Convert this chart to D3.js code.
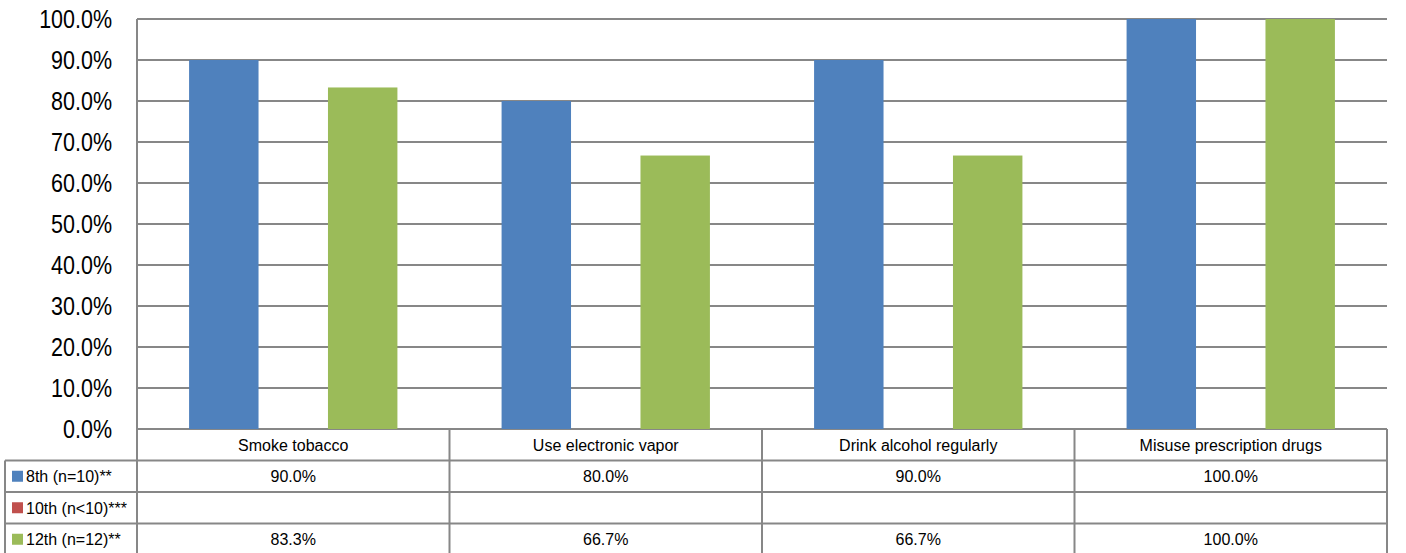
<!DOCTYPE html>
<html><head><meta charset="utf-8">
<script src="https://cdn.jsdelivr.net/npm/d3@7"></script>
<style>html,body{margin:0;padding:0;background:#fff}svg{display:block}text{font-family:"Liberation Sans",Arial,sans-serif;fill:#000}</style>
</head><body>
<script>
const categories = ["Smoke tobacco","Use electronic vapor","Drink alcohol regularly","Misuse prescription drugs"];
const seriesNames = ["8th (n=10)**","10th (n<10)***","12th (n=12)**"];
const values8th = [90.0, 80.0, 90.0, 100.0];
const values10th = [null, null, null, null];
const values12th = [83.3, 66.7, 66.7, 100.0];
const seriesColors = ["#4F81BD","#C0504D","#9BBB59"];
const yTicks = [0,10,20,30,40,50,60,70,80,90,100];

(function(){
const W = 1406, H = 553;
const pLeft = 137, pRight = 1387, pTop = 19, pBottom = 429;
const rowH = 31.5, legendLeft = 5;
const gridColor = "#878787";

const seriesValues = [values8th, values10th, values12th];
const svg = d3.select("body").append("svg").attr("width", W).attr("height", H);

const x = d3.scaleBand().domain(categories).range([pLeft, pRight]).padding(0);
const xs = d3.scaleBand().domain(seriesNames).range([0, x.bandwidth()]).paddingInner(0).paddingOuter(0.75);
const y = d3.scaleLinear().domain([0, 100]).range([pBottom, pTop]);

// gridlines
svg.append("g").selectAll("line").data(yTicks).join("line")
  .attr("x1", pLeft).attr("x2", pRight)
  .attr("y1", d => y(d)).attr("y2", d => y(d))
  .attr("stroke", gridColor).attr("stroke-width", 2);

// y labels
svg.append("g").selectAll("text").data(yTicks).join("text")
  .attr("transform", d => `translate(112,${y(d)}) scale(0.86,1)`)
  .attr("text-anchor", "end").attr("dy", "0.36em")
  .style("font-size", "25px")
  .text(d => d3.format(".1f")(d) + "%");

// bars
seriesNames.forEach((s, si) => {
  svg.append("g").selectAll("rect")
    .data(categories.map((c, i) => ({c, v: seriesValues[si][i]})).filter(d => d.v != null))
    .join("rect")
    .attr("x", d => x(d.c) + xs(s))
    .attr("width", xs.bandwidth())
    .attr("y", d => y(d.v))
    .attr("height", d => y(0) - y(d.v))
    .attr("fill", seriesColors[si]);
});

// table
const tg = svg.append("g");
const rowTops = [pBottom, pBottom + rowH, pBottom + 2*rowH, pBottom + 3*rowH];
[1,2,3].forEach(k => {
  tg.append("line").attr("x1", legendLeft).attr("x2", pRight)
    .attr("y1", rowTops[k]).attr("y2", rowTops[k])
    .attr("stroke", gridColor).attr("stroke-width", 2);
});
const bounds = categories.map(c => x(c)).concat([pRight]);
bounds.forEach((bx, i) => {
  tg.append("line").attr("x1", bx).attr("x2", bx)
    .attr("y1", i === 0 ? pTop : pBottom).attr("y2", H + 5)
    .attr("stroke", gridColor).attr("stroke-width", 2);
});
tg.append("line").attr("x1", legendLeft).attr("x2", legendLeft)
  .attr("y1", rowTops[1]).attr("y2", H + 5)
  .attr("stroke", gridColor).attr("stroke-width", 2);

tg.selectAll("text.cat").data(categories).join("text").attr("class","cat")
  .attr("x", d => x(d) + x.bandwidth()/2).attr("y", pBottom + rowH/2)
  .attr("dy", "0.36em").attr("text-anchor", "middle")
  .style("font-size", "16px").text(d => d);

seriesNames.forEach((s, si) => {
  const cy = rowTops[si+1] + rowH/2;
  tg.append("rect").attr("x", 12).attr("y", cy - 5.5).attr("width", 11).attr("height", 11)
    .attr("fill", seriesColors[si]);
  tg.append("text").attr("x", 26).attr("y", cy).attr("dy", "0.36em")
    .style("font-size", "16px").text(s);
  tg.selectAll(null).data(categories.map((c, i) => ({c, v: seriesValues[si][i]})).filter(d => d.v != null))
    .join("text")
    .attr("x", d => x(d.c) + x.bandwidth()/2).attr("y", cy).attr("dy", "0.36em")
    .attr("text-anchor", "middle").style("font-size", "16px")
    .text(d => d3.format(".1f")(d.v) + "%");
});
})();
</script>
</body></html>
